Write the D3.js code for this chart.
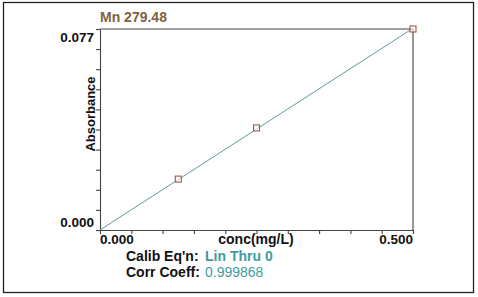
<!DOCTYPE html>
<html>
<head>
<meta charset="utf-8">
<script src="https://cdn.jsdelivr.net/npm/d3@7"></script>
<style>
  body { margin: 0; background: #fff; }
  svg text { font-family: "Liberation Sans", Arial, sans-serif; }
</style>
</head>
<body>
<div id="chart"></div>
<script>
const conc = [0.125, 0.25, 0.5];
const absorbance = [0.0195, 0.0391, 0.0770];
const yTickLabels = ["0.000", "0.077"];
const xTickLabels = ["0.000", "0.500"];
const title = "Mn 279.48";
const calibEqn = "Lin Thru 0";
const corrCoeff = "0.999868";

const data = conc.map((d, i) => ({ x: d, y: absorbance[i] }));

const width = 478, height = 297;
const plot = { left: 100, right: 413, top: 29, bottom: 230 };

const svg = d3.select("#chart")
    .append("svg")
    .attr("width", width)
    .attr("height", height);

// outer frame
svg.append("rect")
    .attr("x", 3.5).attr("y", 2.5)
    .attr("width", 470).attr("height", 290)
    .attr("fill", "none")
    .attr("stroke", "#222")
    .attr("stroke-width", 1.3);

const xScale = d3.scaleLinear().domain([0, 0.5]).range([plot.left, plot.right]);
const yScale = d3.scaleLinear().domain([0, 0.077]).range([plot.bottom, plot.top]);

// plot box (top and right)
svg.append("path")
    .attr("d", `M${plot.left},${plot.top}H${plot.right}V${plot.bottom}`)
    .attr("fill", "none")
    .attr("stroke", "#444")
    .attr("stroke-width", 1.1);

const xTicks = d3.range(0, 11).map(i => i * 0.05);
const yTicks = d3.range(0, 11).map(i => i * 0.0077);

const xAxis = svg.append("g")
    .attr("transform", `translate(0,${plot.bottom})`)
    .call(d3.axisBottom(xScale).tickValues(xTicks).tickSize(4).tickSizeOuter(0).tickFormat(""));
const yAxis = svg.append("g")
    .attr("transform", `translate(${plot.left},0)`)
    .call(d3.axisLeft(yScale).tickValues(yTicks).tickSize(4).tickSizeOuter(0).tickFormat(""));
[xAxis, yAxis].forEach(g => {
    g.selectAll("path,line").attr("stroke", "#444").attr("stroke-width", 1.1);
});

// tick labels
svg.append("text")
    .attr("x", 94).attr("y", yScale(0) - 3)
    .attr("text-anchor", "end")
    .style("font-size", "13.5px").style("font-weight", "bold").attr("fill", "#111")
    .text(yTickLabels[0]);
svg.append("text")
    .attr("x", 94).attr("y", yScale(0.077) + 13)
    .attr("text-anchor", "end")
    .style("font-size", "13.5px").style("font-weight", "bold").attr("fill", "#111")
    .text(yTickLabels[1]);
svg.append("text")
    .attr("x", xScale(0)).attr("y", 244)
    .attr("text-anchor", "start")
    .style("font-size", "13.5px").style("font-weight", "bold").attr("fill", "#111")
    .text(xTickLabels[0]);
svg.append("text")
    .attr("x", xScale(0.5)).attr("y", 244)
    .attr("text-anchor", "end")
    .style("font-size", "13.5px").style("font-weight", "bold").attr("fill", "#111")
    .text(xTickLabels[1]);

// calibration line through zero
const slope = d3.sum(data, d => d.x * d.y) / d3.sum(data, d => d.x * d.x);
const xMax = d3.max(conc);
svg.append("path")
    .datum([{ x: 0, y: 0 }, { x: xMax, y: slope * xMax }])
    .attr("d", d3.line().x(d => xScale(d.x)).y(d => yScale(d.y)))
    .attr("fill", "none")
    .attr("stroke", "#5f9c9f")
    .attr("stroke-width", 1);

// standards
svg.selectAll("rect.pt")
    .data(data)
    .enter()
    .append("rect")
    .attr("class", "pt")
    .attr("x", d => xScale(d.x) - 3)
    .attr("y", d => yScale(d.y) - 3)
    .attr("width", 6)
    .attr("height", 6)
    .attr("fill", "#fff")
    .attr("fill-opacity", 0.6)
    .attr("stroke", "#a3423c")
    .attr("stroke-width", 1);

// title
svg.append("text")
    .attr("x", plot.left).attr("y", 22)
    .style("font-size", "14px").style("font-weight", "bold")
    .attr("fill", "#7d6240")
    .text(title);

// axis titles
svg.append("text")
    .attr("x", 256).attr("y", 244)
    .attr("text-anchor", "middle")
    .style("font-size", "14px").style("font-weight", "bold").attr("fill", "#111")
    .text("conc(mg/L)");
svg.append("text")
    .attr("transform", "rotate(-90)")
    .attr("x", -114).attr("y", 95)
    .attr("text-anchor", "middle")
    .style("font-size", "13px").style("font-weight", "bold").attr("fill", "#111")
    .text("Absorbance");

// calibration info
const info = svg.append("g").style("font-size", "14px");
info.append("text")
    .attr("x", 126).attr("y", 261)
    .style("font-weight", "bold").attr("fill", "#111")
    .text("Calib Eq'n:");
info.append("text")
    .attr("x", 205).attr("y", 261)
    .style("font-weight", "bold").attr("fill", "#3f9ca0")
    .text(calibEqn);
info.append("text")
    .attr("x", 126).attr("y", 277)
    .style("font-weight", "bold").attr("fill", "#111")
    .text("Corr Coeff:");
info.append("text")
    .attr("x", 205).attr("y", 277)
    .attr("fill", "#3f9ca0")
    .text(corrCoeff);
</script>
</body>
</html>
